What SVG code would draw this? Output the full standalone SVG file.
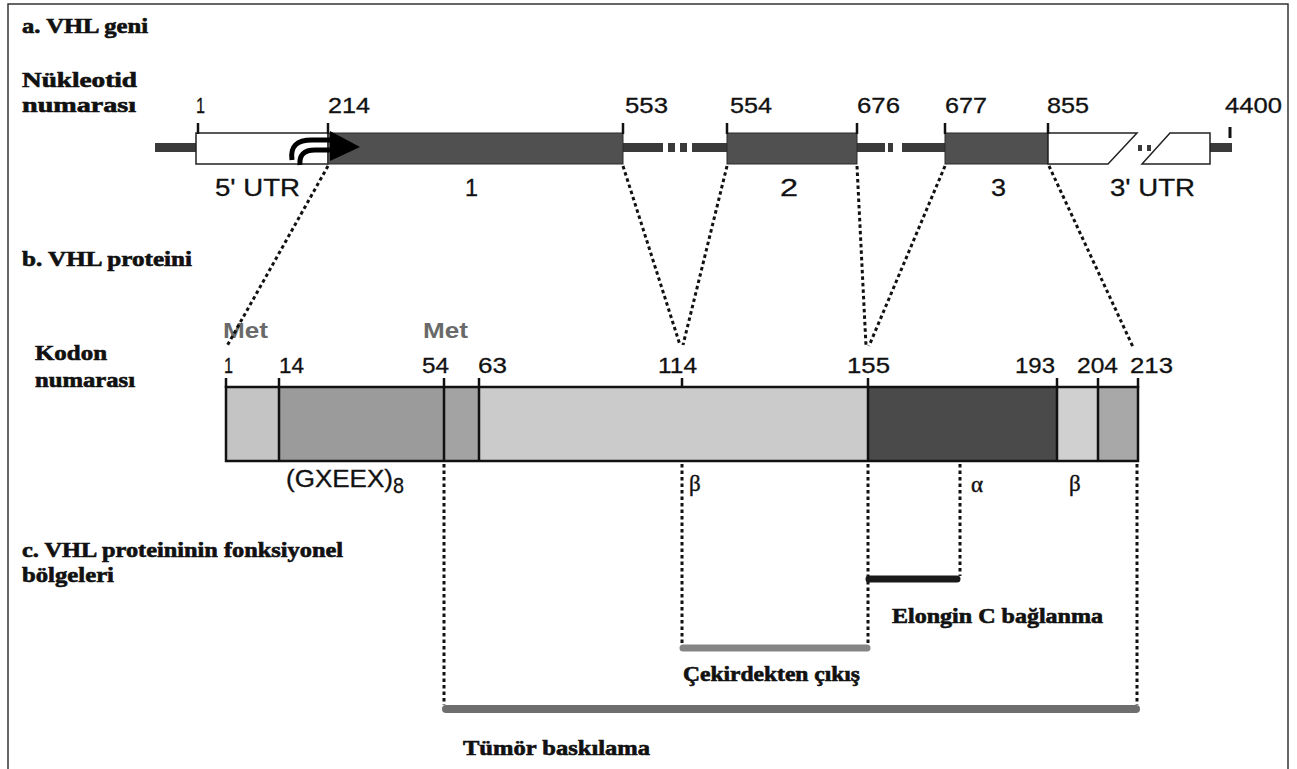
<svg xmlns="http://www.w3.org/2000/svg" width="1297" height="769" viewBox="0 0 1297 769">
<defs>
<style>
.hd{font-family:"Liberation Serif","Times New Roman",serif;font-weight:bold;font-size:20px;fill:#111;stroke:#111;stroke-width:0.6}
.num{font-family:"Liberation Sans",Arial,sans-serif;font-size:22px;fill:#111;stroke:#111;stroke-width:0.3}
.lbl{font-family:"Liberation Sans",Arial,sans-serif;font-size:23px;fill:#111;stroke:#111;stroke-width:0.3}
.met{font-family:"Liberation Sans",Arial,sans-serif;font-size:22px;font-weight:bold;fill:#6a6a6a}
.gr{font-family:"Liberation Serif","Times New Roman",serif;font-size:23px;fill:#111;stroke:#111;stroke-width:0.4}
.exon{fill:#505050;stroke:#2a2a2a;stroke-width:1}
.utr{fill:#fff;stroke:#222;stroke-width:1.5}
.intron{fill:#3a3a3a}
.tick{stroke:#111;stroke-width:2.5}
.dot{stroke:#111;stroke-width:3;stroke-dasharray:3.5 3;fill:none}
.div{stroke:#111;stroke-width:2.5}
</style>
</defs>
<rect x="0" y="0" width="1297" height="769" fill="#fff"/>
<path d="M8 769 V4 H1288 V769" fill="none" stroke="#333" stroke-width="1.5"/>

<g id="headings">
<text class="hd" x="22" y="33" textLength="126" lengthAdjust="spacingAndGlyphs">a. VHL geni</text>
<text class="hd" x="22" y="87" textLength="115" lengthAdjust="spacingAndGlyphs">Nükleotid</text>
<text class="hd" x="22" y="112" textLength="114" lengthAdjust="spacingAndGlyphs">numarası</text>
<text class="hd" x="22" y="266" textLength="170" lengthAdjust="spacingAndGlyphs">b. VHL proteini</text>
<text class="hd" x="35" y="360" textLength="72" lengthAdjust="spacingAndGlyphs">Kodon</text>
<text class="hd" x="35" y="387" textLength="100" lengthAdjust="spacingAndGlyphs">numarası</text>
<text class="hd" x="22" y="557" textLength="321" lengthAdjust="spacingAndGlyphs">c. VHL proteininin fonksiyonel</text>
<text class="hd" x="22" y="582" textLength="92" lengthAdjust="spacingAndGlyphs">bölgeleri</text>
</g>

<g id="gene">
<rect class="intron" x="155" y="143" width="42" height="9"/>
<rect class="intron" x="623" y="143" width="40" height="9"/>
<rect class="intron" x="668" y="143" width="7" height="9"/>
<rect class="intron" x="680" y="143" width="7" height="9"/>
<rect class="intron" x="692" y="143" width="35" height="9"/>
<rect class="intron" x="857" y="143" width="28" height="9"/>
<rect class="intron" x="888" y="143" width="5" height="9"/>
<rect class="intron" x="902" y="143" width="43" height="9"/>
<rect class="intron" x="1210" y="143" width="22" height="9"/>
<rect class="intron" x="1138" y="145" width="4" height="6"/>
<rect class="intron" x="1147" y="145" width="4" height="6"/>
<rect class="utr" x="196" y="133" width="132" height="31"/>
<rect class="exon" x="328" y="133" width="295" height="31"/>
<rect class="exon" x="727" y="133" width="130" height="31"/>
<rect class="exon" x="945" y="133" width="103" height="31"/>
<path class="utr" d="M1048 133 H1137 L1108 164 H1048 Z"/>
<path class="utr" d="M1170 133 H1210 V164 H1142 Z"/>
<line class="tick" x1="198" y1="123" x2="198" y2="134"/>
<line class="tick" x1="328" y1="123" x2="328" y2="134"/>
<line class="tick" x1="623" y1="123" x2="623" y2="134"/>
<line class="tick" x1="727" y1="123" x2="727" y2="134"/>
<line class="tick" x1="857" y1="123" x2="857" y2="134"/>
<line class="tick" x1="945" y1="123" x2="945" y2="134"/>
<line class="tick" x1="1048" y1="123" x2="1048" y2="134"/>
<line x1="1230" y1="127" x2="1230" y2="138" stroke="#111" stroke-width="3"/>
<path d="M292 160 C290 146 297 140 312 140 L336 140" fill="none" stroke="#000" stroke-width="5"/>
<path d="M300 165 C299 155 304 150 315 150 L336 150" fill="none" stroke="#000" stroke-width="5"/>
<polygon points="330,131 360,147 330,161" fill="#000"/>
<text class="num" x="196" y="113" textLength="9" lengthAdjust="spacingAndGlyphs">1</text>
<text class="num" x="328" y="113" textLength="42" lengthAdjust="spacingAndGlyphs">214</text>
<text class="num" x="625" y="113" textLength="43" lengthAdjust="spacingAndGlyphs">553</text>
<text class="num" x="730" y="113" textLength="42" lengthAdjust="spacingAndGlyphs">554</text>
<text class="num" x="857" y="113" textLength="43" lengthAdjust="spacingAndGlyphs">676</text>
<text class="num" x="945" y="113" textLength="42" lengthAdjust="spacingAndGlyphs">677</text>
<text class="num" x="1047" y="113" textLength="42" lengthAdjust="spacingAndGlyphs">855</text>
<text class="num" x="1225" y="113" textLength="57" lengthAdjust="spacingAndGlyphs">4400</text>
<text class="lbl" x="215" y="196" textLength="85" lengthAdjust="spacingAndGlyphs">5' UTR</text>
<text class="lbl" x="465" y="196" textLength="13" lengthAdjust="spacingAndGlyphs">1</text>
<text class="lbl" x="780" y="196" textLength="18" lengthAdjust="spacingAndGlyphs">2</text>
<text class="lbl" x="991" y="196" textLength="15" lengthAdjust="spacingAndGlyphs">3</text>
<text class="lbl" x="1110" y="196" textLength="85" lengthAdjust="spacingAndGlyphs">3' UTR</text>
</g>

<g id="protein">
<rect x="226" y="387" width="53" height="74" fill="#c4c4c4"/>
<rect x="279" y="387" width="165" height="74" fill="#9b9b9b"/>
<rect x="444" y="387" width="35" height="74" fill="#a3a3a3"/>
<rect x="479" y="387" width="389" height="74" fill="#cbcbcb"/>
<rect x="868" y="387" width="189" height="74" fill="#4a4a4a"/>
<rect x="1057" y="387" width="41" height="74" fill="#d0d0d0"/>
<rect x="1098" y="387" width="40" height="74" fill="#a8a8a8"/>
<rect x="226" y="387" width="912" height="74" fill="none" stroke="#111" stroke-width="2.5"/>
<line class="div" x1="279" y1="378" x2="279" y2="461"/>
<line class="div" x1="444" y1="378" x2="444" y2="461"/>
<line class="div" x1="479" y1="378" x2="479" y2="461"/>
<line class="div" x1="868" y1="378" x2="868" y2="461" stroke-width="3"/>
<line class="div" x1="1057" y1="378" x2="1057" y2="461"/>
<line class="div" x1="1098" y1="378" x2="1098" y2="461"/>
<line class="tick" x1="226" y1="378" x2="226" y2="388"/>
<line class="tick" x1="682" y1="378" x2="682" y2="388"/>
<line class="tick" x1="1138" y1="378" x2="1138" y2="388"/>
<text class="met" x="223" y="338" textLength="45" lengthAdjust="spacingAndGlyphs">Met</text>
<text class="met" x="423" y="338" textLength="45" lengthAdjust="spacingAndGlyphs">Met</text>
<text class="num" x="224" y="373" textLength="9" lengthAdjust="spacingAndGlyphs">1</text>
<text class="num" x="279" y="373" textLength="25" lengthAdjust="spacingAndGlyphs">14</text>
<text class="num" x="422" y="373" textLength="27" lengthAdjust="spacingAndGlyphs">54</text>
<text class="num" x="478" y="373" textLength="29" lengthAdjust="spacingAndGlyphs">63</text>
<text class="num" x="658" y="373" textLength="39" lengthAdjust="spacingAndGlyphs">114</text>
<text class="num" x="847" y="373" textLength="43" lengthAdjust="spacingAndGlyphs">155</text>
<text class="num" x="1015" y="373" textLength="40" lengthAdjust="spacingAndGlyphs">193</text>
<text class="num" x="1077" y="373" textLength="41" lengthAdjust="spacingAndGlyphs">204</text>
<text class="num" x="1130" y="373" textLength="43" lengthAdjust="spacingAndGlyphs">213</text>
<text class="lbl" x="286" y="487" textLength="107" lengthAdjust="spacingAndGlyphs">(GXEEX)</text>
<text class="num" x="393" y="493" font-size="17" textLength="11" lengthAdjust="spacingAndGlyphs">8</text>
<text class="gr" x="689" y="491">β</text>
<text class="gr" x="971" y="492">α</text>
<text class="gr" x="1069" y="491">β</text>
</g>

<g id="connectors">
<line class="dot" x1="328" y1="166" x2="227" y2="346"/>
<line class="dot" x1="623" y1="166" x2="680" y2="345"/>
<line class="dot" x1="727" y1="166" x2="683" y2="345"/>
<line class="dot" x1="857" y1="166" x2="866" y2="346"/>
<line class="dot" x1="945" y1="166" x2="869" y2="346"/>
<line class="dot" x1="1049" y1="166" x2="1133" y2="347"/>
<line class="dot" x1="444" y1="464" x2="444" y2="705"/>
<line class="dot" x1="682" y1="464" x2="682" y2="645"/>
<line class="dot" x1="868" y1="464" x2="868" y2="645"/>
<line class="dot" x1="960" y1="464" x2="960" y2="576"/>
<line class="dot" x1="1137" y1="464" x2="1137" y2="705"/>
</g>

<g id="region-elongin">
<line x1="869" y1="579" x2="957" y2="579" stroke="#1a1a1a" stroke-width="7" stroke-linecap="round"/>
<text class="hd" x="892" y="623" textLength="211" lengthAdjust="spacingAndGlyphs">Elongin C bağlanma</text>
</g>
<g id="region-nuclear-export">
<line x1="683" y1="648" x2="867" y2="648" stroke="#858585" stroke-width="7" stroke-linecap="round"/>
<text class="hd" x="683" y="681" textLength="177" lengthAdjust="spacingAndGlyphs">Çekirdekten çıkış</text>
</g>
<g id="region-tumor">
<line x1="446" y1="709" x2="1136" y2="709" stroke="#6e6e6e" stroke-width="8" stroke-linecap="round"/>
<text class="hd" x="463" y="755" textLength="187" lengthAdjust="spacingAndGlyphs">Tümör baskılama</text>
</g>
</svg>
